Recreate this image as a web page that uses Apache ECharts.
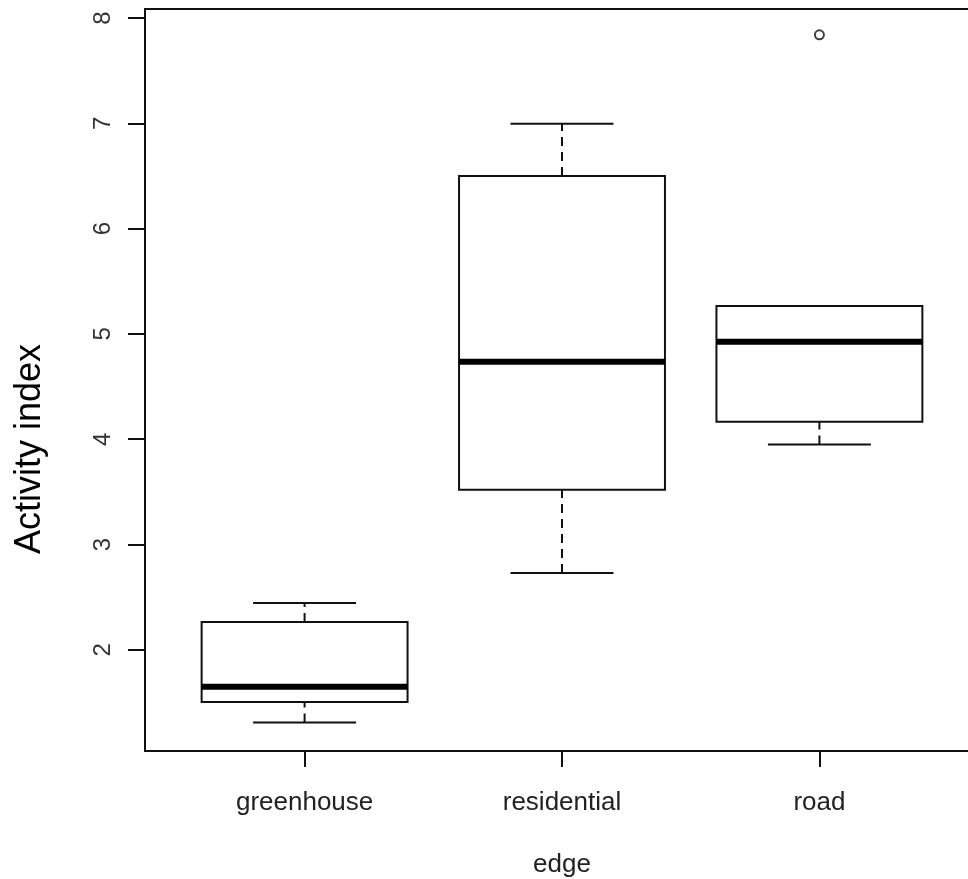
<!DOCTYPE html>
<html>
<head>
<meta charset="utf-8">
<script src="https://cdn.jsdelivr.net/npm/echarts@6/dist/echarts.min.js"></script>
<style>
  html, body { margin: 0; padding: 0; background: #fff; }
  #chart { width: 968px; height: 879px; }
</style>
</head>
<body>
<div id="chart"></div>
<script>
// boxplot stats per group
var categories = ['greenhouse', 'residential', 'road'];
var lowerWhisker = [1.31, 2.73, 3.95];
var q1 = [1.505, 3.52, 4.165];
var median = [1.65, 4.735, 4.925];
var q3 = [2.265, 6.50, 5.265];
var upperWhisker = [2.445, 6.995, 5.265];
// outliers
var outlierGroup = [3];
var outlierValue = [7.84];
var yTicks = [2, 3, 4, 5, 6, 7, 8];

var boxData = categories.map(function (c, i) {
  return [i + 1, lowerWhisker[i], q1[i], median[i], q3[i], upperWhisker[i]];
});
var outlierData = outlierGroup.map(function (g, i) {
  return [g, outlierValue[i]];
});

var ink = '#111';
var labelFont = 'Liberation Sans, Arial, sans-serif';

function renderBox(params, api) {
  var x = api.value(0);
  var lo = api.value(1), a = api.value(2), m = api.value(3), b = api.value(4), hi = api.value(5);
  var half = api.size([0.8, 0])[0] / 2;
  var capHalf = half / 2;
  var c = api.coord([x, m]);
  var pLo = api.coord([x, lo]), pA = api.coord([x, a]), pB = api.coord([x, b]), pHi = api.coord([x, hi]);
  var cx = c[0];
  var dashed = { stroke: ink, lineWidth: 2, lineDash: [9, 6] };
  var solid = { stroke: ink, lineWidth: 2 };
  return {
    type: 'group',
    children: [
      { type: 'line', shape: { x1: cx, y1: pB[1], x2: cx, y2: pHi[1] }, style: dashed },
      { type: 'line', shape: { x1: cx, y1: pLo[1], x2: cx, y2: pA[1] }, style: dashed },
      { type: 'line', shape: { x1: cx - capHalf, y1: pHi[1], x2: cx + capHalf, y2: pHi[1] }, style: solid },
      { type: 'line', shape: { x1: cx - capHalf, y1: pLo[1], x2: cx + capHalf, y2: pLo[1] }, style: solid },
      { type: 'rect', shape: { x: cx - half, y: pB[1], width: half * 2, height: pA[1] - pB[1] },
        style: { fill: '#fff', stroke: ink, lineWidth: 2 } },
      { type: 'line', shape: { x1: cx - half, y1: c[1], x2: cx + half, y2: c[1] },
        style: { stroke: '#000', lineWidth: 6 } }
    ]
  };
}

var myChart = echarts.init(document.getElementById('chart'));
var option = {
  backgroundColor: '#fff',
  animation: false,
  grid: {
    left: 145, top: 9, width: 834, height: 742,
    outerBoundsMode: 'none',
    show: true, borderColor: ink, borderWidth: 2, backgroundColor: 'transparent'
  },
  xAxis: {
    type: 'value',
    min: 0.38,
    max: 3.62,
    name: 'edge',
    nameLocation: 'middle',
    nameGap: 101,
    nameTextStyle: { fontFamily: labelFont, fontSize: 26, color: '#222' },
    axisLine: { show: false },
    splitLine: { show: false },
    axisTick: { show: true, length: 16, customValues: [1, 2, 3], lineStyle: { color: ink, width: 2 } },
    axisLabel: {
      customValues: [1, 2, 3],
      margin: 39,
      fontFamily: labelFont, fontSize: 26, color: '#222',
      formatter: function (v) { return categories[Math.round(v) - 1] || ''; }
    }
  },
  yAxis: {
    type: 'value',
    min: 1.04,
    max: 8.085,
    axisLine: { show: false },
    splitLine: { show: false },
    axisTick: { show: true, length: 17, customValues: yTicks, lineStyle: { color: ink, width: 2 } },
    axisLabel: {
      customValues: yTicks,
      rotate: 90,
      margin: 30,
      fontFamily: labelFont, fontSize: 24, color: '#333'
    }
  },
  graphic: [{
    type: 'text',
    x: 30,
    y: 449,
    rotation: Math.PI / 2,
    style: {
      text: 'Activity index',
      font: '36px Liberation Sans, Arial, sans-serif',
      fill: '#000',
      align: 'center',
      verticalAlign: 'middle'
    }
  }],
  series: [
    {
      type: 'custom',
      renderItem: renderBox,
      data: boxData,
      encode: { x: 0, y: [1, 2, 3, 4, 5] },
      z: 3
    },
    {
      type: 'scatter',
      data: outlierData,
      symbol: 'circle',
      symbolSize: 9,
      itemStyle: { color: '#fff', borderColor: ink, borderWidth: 2 },
      z: 4
    }
  ]
};
myChart.setOption(option);
</script>
</body>
</html>
